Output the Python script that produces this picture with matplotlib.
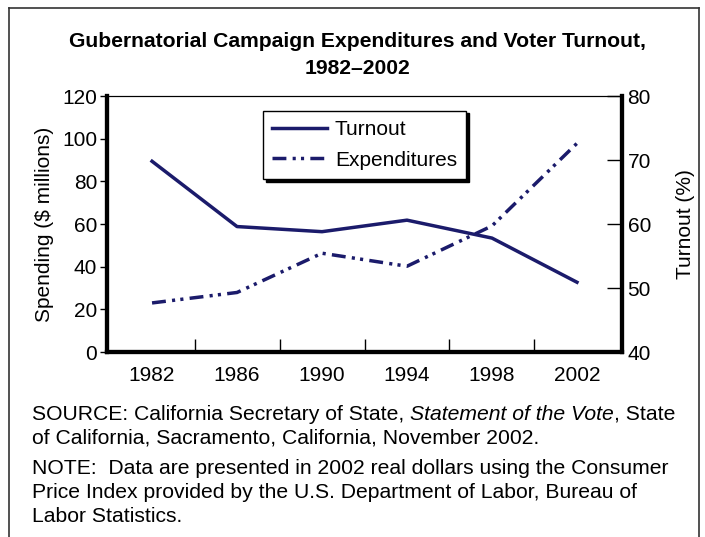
import numpy as np
import matplotlib.pyplot as plt
from matplotlib.lines import Line2D

plt.rcParams['font.family'] = ['Liberation Sans', 'DejaVu Sans']

years = ['1982', '1986', '1990', '1994', '1998', '2002']
turnout = [69.8, 59.6, 58.8, 60.6, 57.8, 50.9]          # percent, right axis
expenditures = [23.0, 27.9, 46.3, 40.2, 59.1, 97.8]     # $ millions, left axis

navy = '#1b1b6b'
fs = 15

fig = plt.figure(figsize=(7.05, 5.37), dpi=100)
ax = fig.add_axes([107 / 705, 1 - 352 / 537, 515 / 705, 256 / 537])
ax2 = ax.twinx()

x = np.arange(len(years))
exp_line, = ax.plot(x, expenditures, color=navy, lw=2.5,
                    dashes=(4, 1.8, 0.9, 1.5, 0.9, 1.8), label='Expenditures')
turn_line, = ax2.plot(x, turnout, color=navy, lw=2.5, label='Turnout')

ax.set_xlim(-0.53, 5.53)
ax.set_ylim(0, 120)
ax.set_yticks(range(0, 121, 20))
ax2.set_ylim(40, 80)
ax2.set_yticks(range(40, 81, 10))

ax.set_xticks(x)
ax.set_xticklabels(years)
ax.set_xticks(x[:-1] + 0.5, minor=True)
ax.tick_params(axis='x', which='major', length=0, pad=10, labelsize=fs)
ax.tick_params(axis='x', which='minor', direction='in', length=9.5, width=1)
ax.tick_params(axis='y', direction='out', length=5, width=1, labelsize=fs, pad=2)
ax2.tick_params(axis='y', direction='in', length=11, width=1, labelsize=fs, pad=4)

for a in (ax, ax2):
    a.spines['left'].set_linewidth(3)
    a.spines['bottom'].set_linewidth(3)
    a.spines['right'].set_linewidth(3)
    a.spines['top'].set_linewidth(0.8)

ax.set_ylabel('Spending ($ millions)', fontsize=fs, labelpad=6)
ax2.set_ylabel('Turnout (%)', fontsize=fs, labelpad=18)

leg = ax.legend([turn_line, exp_line], ['Turnout', 'Expenditures'],
                loc='upper left', bbox_to_anchor=(0.303, 0.9425),
                borderaxespad=0, fontsize=fs, handlelength=2.6,
                frameon=True, fancybox=False, edgecolor='black',
                framealpha=1, shadow={'color': 'black', 'alpha': 1},
                borderpad=0.45, labelspacing=0.55, handletextpad=0.4)
leg.get_frame().set_linewidth(1)
leg.set_zorder(5)

fig.text(358 / 705, 1 - 47 / 537, 'Gubernatorial Campaign Expenditures and Voter Turnout,',
         ha='center', va='baseline', fontsize=15.2, fontweight='bold')
fig.text(358 / 705, 1 - 74 / 537, '1982\u20132002',
         ha='center', va='baseline', fontsize=15.2, fontweight='bold')

# source line with italic part
fig.canvas.draw()
r = fig.canvas.get_renderer()
parts = [('SOURCE: California Secretary of State, ', 'normal'),
         ('Statement of the Vote', 'italic'),
         (', State', 'normal')]
xpos = 32 / 705
for txt, st in parts:
    t = fig.text(xpos, 1 - 414 / 537, txt, fontsize=15.2, style=st, va='center')
    bb = t.get_window_extent(renderer=r)
    xpos += bb.width / fig.bbox.width

notes = ['of California, Sacramento, California, November 2002.',
         'NOTE:  Data are presented in 2002 real dollars using the Consumer',
         'Price Index provided by the U.S. Department of Labor, Bureau of',
         'Labor Statistics.']
for yy, txt in zip([438, 468, 493, 517], notes):
    fig.text(32 / 705, 1 - yy / 537, txt, fontsize=15.2, va='center')

# outer frame (open at the bottom)
fw = 1.2
xl, xr, yt = 9 / 705, 699 / 705, 1 - 8 / 537
fig.add_artist(Line2D([xl, xl], [0, yt], color='#333333', lw=fw))
fig.add_artist(Line2D([xr, xr], [0, yt], color='#333333', lw=fw))
fig.add_artist(Line2D([xl, xr], [yt, yt], color='#333333', lw=fw))

fig.savefig('out.png', dpi=100)
